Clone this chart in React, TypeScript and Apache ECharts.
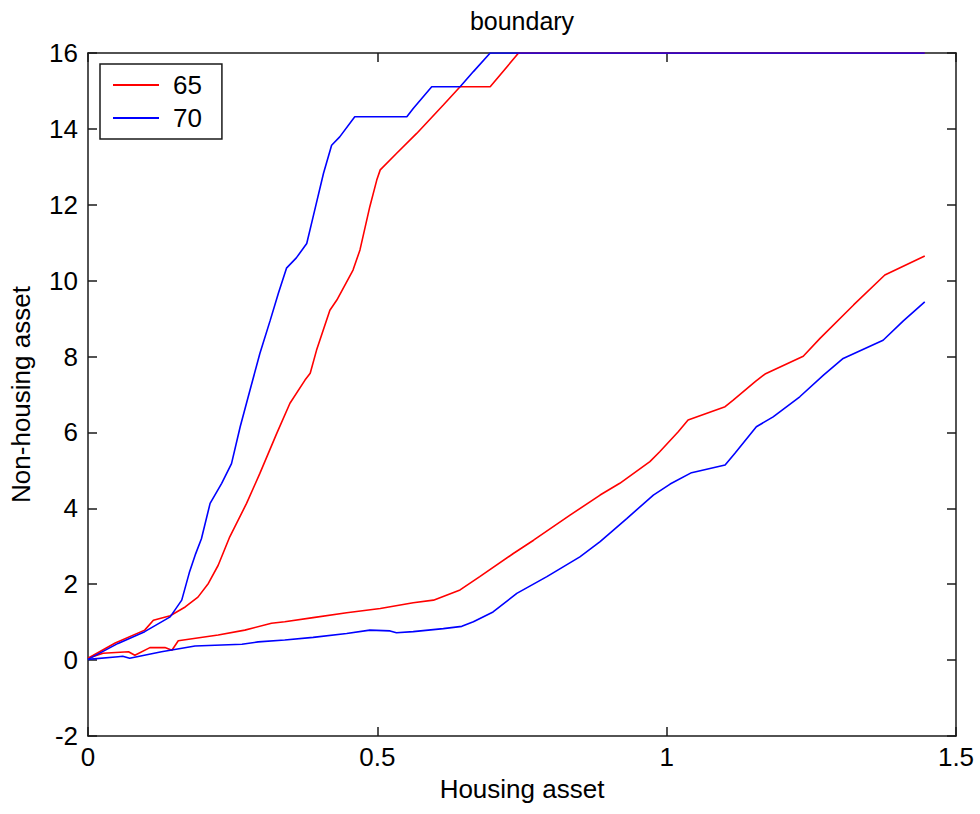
import React, { useEffect, useRef } from "react";
import * as echarts from "echarts";

const titleText = "boundary";
const xName = "Housing asset";
const yName = "Non-housing asset";
const legendNames = ["65", "70"];

// [housing asset, non-housing asset]
const red65Upper: number[][] = [
  [0, 0.05], [0.047, 0.45], [0.098, 0.79], [0.113, 1.05], [0.142, 1.17], [0.168, 1.4],
  [0.19, 1.66], [0.208, 2.02], [0.225, 2.5], [0.245, 3.25], [0.274, 4.13], [0.297, 4.92],
  [0.326, 5.97], [0.349, 6.77], [0.375, 7.38], [0.384, 7.56], [0.395, 8.17], [0.418, 9.22],
  [0.43, 9.49], [0.458, 10.28], [0.47, 10.81], [0.487, 11.95], [0.499, 12.65], [0.505, 12.92],
  [0.533, 13.35], [0.568, 13.88], [0.614, 14.63], [0.643, 15.11], [0.695, 15.11], [0.744, 16],
  [1.446, 16],
];
const red65Lower: number[][] = [
  [0, 0.05], [0.026, 0.18], [0.07, 0.22], [0.081, 0.13], [0.107, 0.33], [0.133, 0.33],
  [0.145, 0.26], [0.156, 0.51], [0.225, 0.66], [0.271, 0.79], [0.317, 0.97], [0.34, 1.01],
  [0.389, 1.12], [0.447, 1.25], [0.505, 1.36], [0.562, 1.51], [0.597, 1.58], [0.643, 1.85],
  [0.677, 2.2], [0.735, 2.81], [0.77, 3.16], [0.833, 3.82], [0.885, 4.35], [0.919, 4.66],
  [0.971, 5.23], [0.988, 5.49], [1.02, 6.02], [1.037, 6.33], [1.101, 6.68], [1.115, 6.85],
  [1.153, 7.34], [1.17, 7.54], [1.236, 8.01], [1.265, 8.48], [1.323, 9.36], [1.377, 10.15],
  [1.446, 10.65],
];
const blue70Upper: number[][] = [
  [0, 0.02], [0.052, 0.44], [0.098, 0.75], [0.142, 1.14], [0.162, 1.58], [0.175, 2.3],
  [0.186, 2.8], [0.196, 3.2], [0.211, 4.13], [0.231, 4.66], [0.248, 5.18], [0.263, 6.15],
  [0.28, 7.12], [0.297, 8.08], [0.315, 8.96], [0.329, 9.67], [0.343, 10.33], [0.36, 10.6],
  [0.378, 10.98], [0.389, 11.68], [0.407, 12.83], [0.421, 13.57], [0.435, 13.79], [0.461, 14.32],
  [0.551, 14.32], [0.562, 14.54], [0.594, 15.11], [0.643, 15.11], [0.666, 15.51], [0.695, 16],
  [1.446, 16],
];
const blue70Lower: number[][] = [
  [0, 0.02], [0.052, 0.09], [0.06, 0.1], [0.072, 0.05], [0.127, 0.22], [0.185, 0.37],
  [0.266, 0.42], [0.294, 0.48], [0.34, 0.53], [0.389, 0.6], [0.447, 0.7], [0.487, 0.79],
  [0.522, 0.77], [0.533, 0.72], [0.562, 0.75], [0.614, 0.83], [0.646, 0.89], [0.666, 1.01],
  [0.7, 1.27], [0.741, 1.76], [0.793, 2.2], [0.85, 2.72], [0.885, 3.12], [0.931, 3.73],
  [0.977, 4.35], [1.006, 4.64], [1.043, 4.94], [1.101, 5.14], [1.118, 5.45], [1.155, 6.15],
  [1.184, 6.41], [1.23, 6.94], [1.271, 7.51], [1.305, 7.95], [1.374, 8.43], [1.409, 8.94],
  [1.446, 9.44],
];

const FONT = "'Liberation Sans', Arial, Helvetica, sans-serif";
const RED = "#ff0000";
const BLUE = "#0000ff";
const AXIS = "#1a1a1a";
const FS = 26;

export default function App() {
  const ref = useRef<HTMLDivElement>(null);
  useEffect(() => {
    document.body.style.margin = "0";
    if (!ref.current) return;
    const chart = echarts.init(ref.current, null, { renderer: "svg" });
    const axisCommon = {
      type: "value" as const,
      axisLine: { show: true, onZero: false, lineStyle: { color: AXIS, width: 1.5 } },
      axisTick: { show: true, inside: true, length: 9, lineStyle: { color: AXIS, width: 1.5 } },
      splitLine: { show: false },
    };
    const line = (name: string, data: number[][], color: string) => ({
      name,
      type: "line",
      data,
      symbol: "none",
      lineStyle: { color, width: 1.6 },
      itemStyle: { color },
      xAxisIndex: 0,
      yAxisIndex: 0,
    });
    chart.setOption({
      animation: false,
      backgroundColor: "#ffffff",
      textStyle: { fontFamily: FONT },
      grid: { left: 88, top: 53, right: 24, bottom: 78 },
      graphic: [
        {
          type: "text",
          x: 522,
          y: 8,
          style: { text: titleText, textAlign: "center", fontSize: 25, fontFamily: FONT, fill: "#000" },
        },
      ],
      legend: {
        data: legendNames,
        orient: "vertical",
        left: 100,
        top: 64,
        icon: "rect",
        itemWidth: 46,
        itemHeight: 2,
        itemGap: 7,
        padding: [8, 20, 8, 13],
        borderColor: AXIS,
        borderWidth: 1.5,
        backgroundColor: "#fff",
        textStyle: { fontSize: FS, fontFamily: FONT, color: "#000", lineHeight: 26, padding: [0, 0, 0, 9] },
      },
      xAxis: [
        {
          ...axisCommon,
          position: "bottom",
          min: 0,
          max: 1.5,
          interval: 0.5,
          name: xName,
          nameLocation: "middle",
          nameGap: 40,
          nameTextStyle: { fontSize: FS, fontFamily: FONT, color: "#000" },
          axisLabel: { fontSize: FS, fontFamily: FONT, color: "#000", margin: 8 },
        },
        {
          ...axisCommon,
          position: "top",
          min: 0,
          max: 1.5,
          interval: 0.5,
          axisLabel: { show: false },
        },
      ],
      yAxis: [
        {
          ...axisCommon,
          position: "left",
          min: -2,
          max: 16,
          interval: 2,
          name: yName,
          nameLocation: "middle",
          nameRotate: 90,
          nameGap: 54,
          nameTextStyle: { fontSize: FS, fontFamily: FONT, color: "#000" },
          axisLabel: { fontSize: FS, fontFamily: FONT, color: "#000", margin: 10 },
        },
        {
          ...axisCommon,
          position: "right",
          min: -2,
          max: 16,
          interval: 2,
          axisLabel: { show: false },
        },
      ],
      series: [
        line("65", red65Upper, RED),
        line("65", red65Lower, RED),
        line("70", blue70Upper, BLUE),
        line("70", blue70Lower, BLUE),
      ],
    });
    return () => chart.dispose();
  }, []);
  return <div ref={ref} style={{ width: 980, height: 814 }} />;
}
